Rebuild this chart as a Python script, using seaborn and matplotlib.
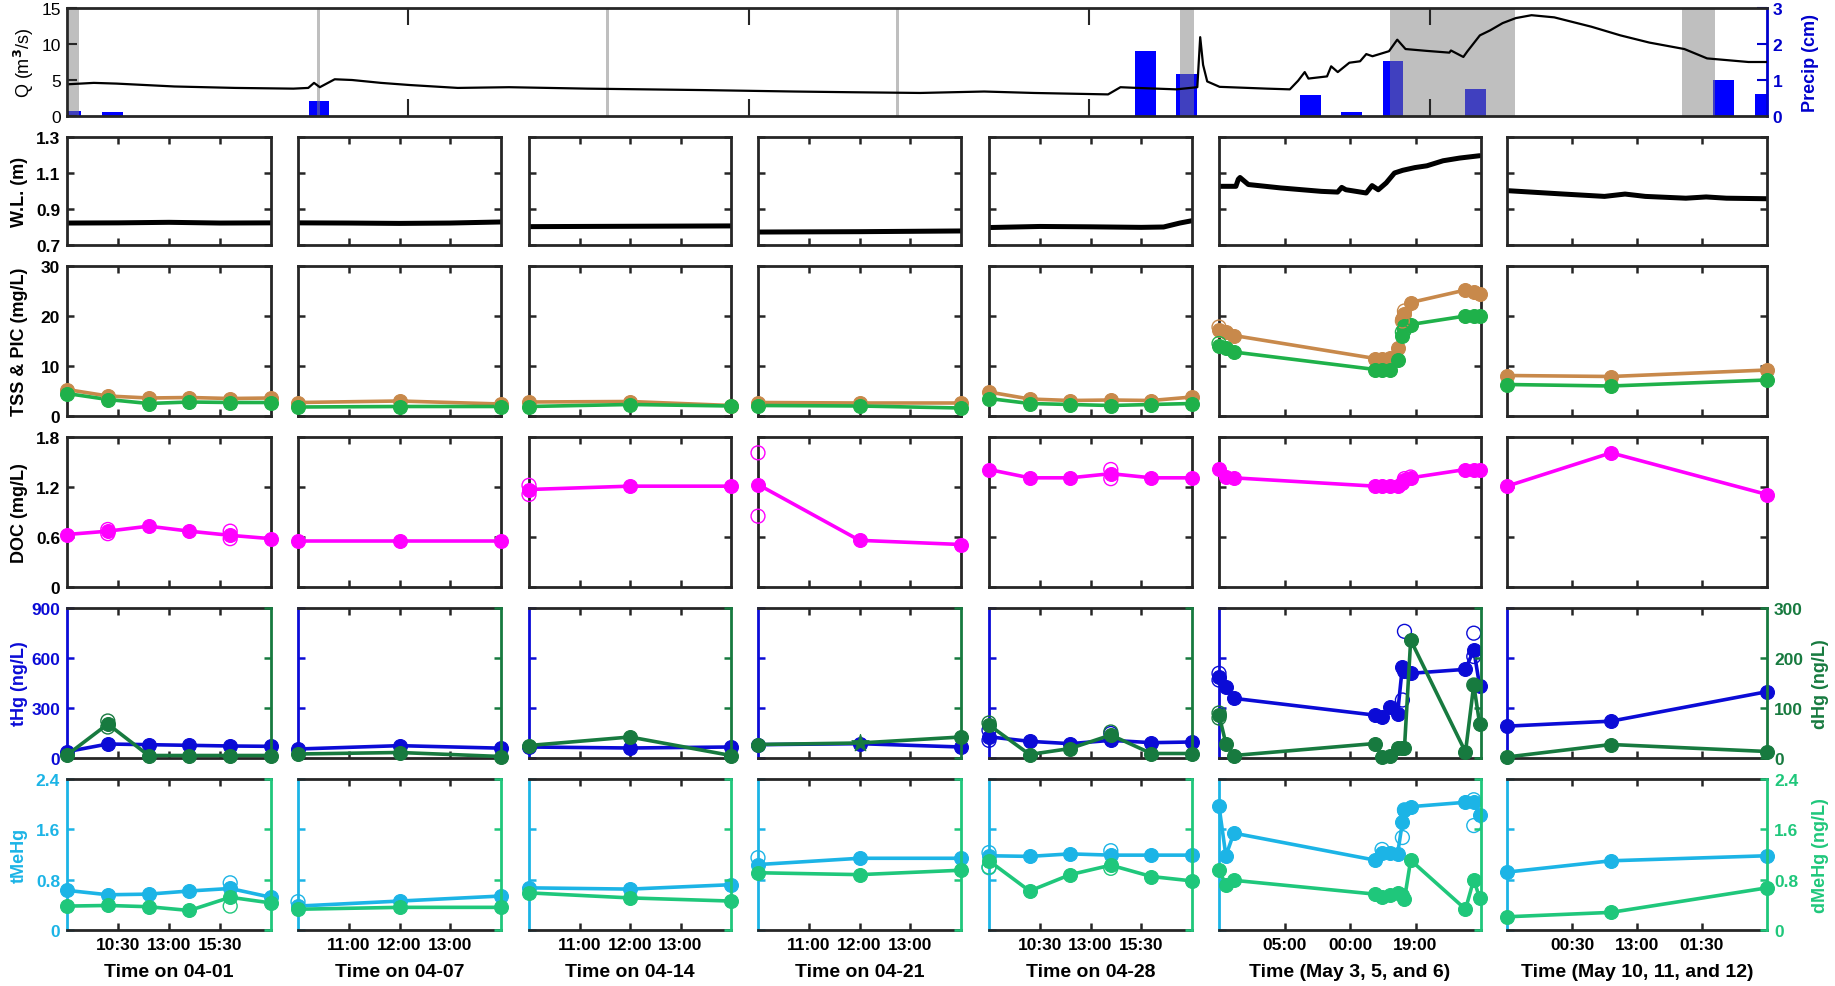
import numpy as np
import pandas as pd
import matplotlib
matplotlib.use("Agg")
import matplotlib.pyplot as plt
import seaborn as sns

# ---------------- data ----------------
# top panel: discharge (days since Apr 1 00:00)
Q_DAY = [0.0, 0.65, 1.2, 2.6, 4.07, 5.48, 5.84, 5.98, 6.12, 6.48, 6.9, 7.6, 8.3, 9.46, 10.7,
         12.6, 14.0, 15.4, 17.6, 19.0, 20.65, 22.2, 23.4, 25.2, 25.5, 25.9, 26.85, 27.36, 27.43,
         27.5, 27.6, 27.9, 29.05, 29.6, 29.8, 29.96, 30.05, 30.5, 30.6, 30.76, 31.04, 31.3, 31.45,
         31.6, 32.0, 32.2, 32.4, 32.9, 33.46, 33.5, 33.8, 33.9, 34.2, 34.45, 34.75, 35.07, 35.45,
         36.0, 36.9, 37.6, 38.3, 39.15, 39.7, 40.1, 40.7, 41.15]
Q_M3S = [4.4, 4.6, 4.5, 4.1, 3.9, 3.8, 3.9, 4.6, 4.0, 5.1, 5.0, 4.6, 4.3, 3.9, 4.0,
         3.8, 3.7, 3.6, 3.4, 3.3, 3.2, 3.4, 3.2, 3.0, 4.0, 3.9, 3.7, 4.0, 10.95,
         7.1, 4.8, 4.05, 3.8, 3.7, 4.9, 6.1, 5.2, 5.5, 6.9, 6.1, 7.4, 7.6, 8.6,
         8.3, 9.0, 10.6, 9.3, 9.05, 8.8, 9.1, 8.2, 9.0, 11.2, 11.9, 12.9, 13.6, 14.0,
         13.7, 12.4, 11.2, 10.2, 9.3, 8.0, 7.8, 7.5, 7.5]
P_DAY = [0.1, 1.1, 6.1, 26.1, 27.1, 30.1, 31.1, 32.1, 34.1, 40.1, 41.1]
P_CM = [0.15, 0.12, 0.43, 1.8, 1.17, 0.57, 0.11, 1.54, 0.76, 1.0, 0.62]
SAMPLING_START = [0.05, 6.05, 13.04, 20.07, 26.95, 32.03, 39.1]
SAMPLING_END = [0.29, 6.12, 13.11, 20.14, 27.29, 35.06, 39.88]
TOP_XTICKS = [8.25, 16.5, 24.75, 33.0]

# sampling windows (hours from start of each window)
COL_SPAN = [10, 4, 4, 4, 10, 76, 50]
XTICK_LABELS = [["10:30", "13:00", "15:30"], ["11:00", "12:00", "13:00"],
                ["11:00", "12:00", "13:00"], ["11:00", "12:00", "13:00"],
                ["10:30", "13:00", "15:30"], ["05:00", "00:00", "19:00"],
                ["00:30", "13:00", "01:30"]]
XLABELS = ["Time on 04-01", "Time on 04-07", "Time on 04-14", "Time on 04-21",
           "Time on 04-28", "Time (May 3, 5, and 6)", "Time (May 10, 11, and 12)"]

# water level
WL_T = [[0, 2.5, 5, 7.5, 10], [0, 1, 2, 3, 4], [0, 2, 4], [0, 2, 4],
        [0, 2.5, 5, 7.5, 8.6, 9.4, 10],
        [0, 4.9, 5.6, 6.1, 8.5, 17.9, 29.7, 34.4, 35.6, 36.8, 42.7, 44.4, 46.2, 48.5, 50.9,
         53.3, 56.8, 60.3, 65.0, 69.8, 75.6],
        [0, 10.9, 18.75, 22.7, 26.6, 34.4, 38.3, 42.2, 50]]
WL_M = [[0.822, 0.823, 0.826, 0.822, 0.823], [0.823, 0.822, 0.820, 0.822, 0.828],
        [0.802, 0.804, 0.806], [0.772, 0.774, 0.778],
        [0.797, 0.803, 0.801, 0.798, 0.800, 0.822, 0.835],
        [1.026, 1.026, 1.065, 1.075, 1.036, 1.017, 0.998, 0.994, 1.02, 1.007, 0.989, 1.03,
         1.007, 1.045, 1.10, 1.115, 1.13, 1.14, 1.168, 1.183, 1.196],
        [1.002, 0.983, 0.97, 0.983, 0.97, 0.96, 0.967, 0.96, 0.957]]

# grab samples
T_SAMPLE = [[0, 2, 4, 6, 8, 10], [0, 2, 4], [0, 2, 4], [0, 2, 4], [0, 2, 4, 6, 8, 10],
            [0, 2.0, 4.3, 45.3, 47.3, 49.7, 51.8, 53.2, 53.8, 55.6, 71.5, 73.9, 75.6],
            [0, 20, 50]]
TSS = [[5.3, 4.0, 3.6, 3.7, 3.5, 3.6], [2.7, 3.0, 2.4], [2.8, 2.9, 2.1], [2.7, 2.6, 2.6],
       [4.8, 3.4, 3.1, 3.2, 3.1, 3.8],
       [17.3, 16.8, 16.1, 11.5, 11.5, 11.7, 13.7, 19.5, 20.5, 22.7, 25.2, 24.9, 24.5],
       [8.1, 7.9, 9.2]]
PIC = [[4.5, 3.3, 2.5, 2.8, 2.7, 2.7], [1.8, 1.9, 1.9], [1.9, 2.3, 2.0], [2.1, 2.0, 1.6],
       [3.5, 2.5, 2.3, 2.1, 2.3, 2.5],
       [14.0, 13.7, 12.8, 9.3, 9.2, 9.2, 11.3, 16.0, 18.0, 18.3, 20.0, 20.1, 20.0],
       [6.3, 6.0, 7.2]]
DOC = [[0.63, 0.67, 0.73, 0.67, 0.62, 0.58], [0.55, 0.55, 0.55], [1.17, 1.21, 1.21],
       [1.23, 0.56, 0.51], [1.41, 1.31, 1.31, 1.36, 1.31, 1.31],
       [1.42, 1.32, 1.31, 1.21, 1.21, 1.21, 1.21, 1.25, 1.28, 1.31, 1.41, 1.41, 1.41],
       [1.21, 1.61, 1.11]]
THG = [[38, 84, 80, 76, 72, 70], [54, 74, 59], [66, 60, 66], [80, 86, 66],
       [127, 100, 86, 106, 92, 96],
       [488, 428, 358, 257, 247, 307, 267, 548, 520, 508, 532, 649, 434],
       [191, 221, 398]]
DHG = [[6, 68, 5, 5, 5, 5], [8, 11, 3], [25, 42, 5], [27, 30, 42], [66, 7, 19, 46, 9, 9],
       [86, 29, 5, 29, 2, 5, 20, 20, 20, 236, 12, 146, 69],
       [2, 27, 13]]
DHG_MARKERS = [['o'] * 6, ['o'] * 3, ['o'] * 3, ['o', '*', 'o'], ['o'] * 6, ['o'] * 13, ['o'] * 3]
TMEHG = [[0.63, 0.56, 0.57, 0.62, 0.66, 0.52], [0.38, 0.46, 0.54], [0.67, 0.65, 0.72],
         [1.04, 1.14, 1.14], [1.18, 1.17, 1.21, 1.19, 1.19, 1.19],
         [1.97, 1.18, 1.54, 1.11, 1.23, 1.22, 1.21, 1.71, 1.91, 1.96, 2.03, 2.04, 1.83],
         [0.92, 1.10, 1.18]]
DMEHG = [[0.38, 0.39, 0.37, 0.31, 0.52, 0.43], [0.33, 0.36, 0.36], [0.59, 0.51, 0.46],
         [0.91, 0.88, 0.95], [1.10, 0.62, 0.88, 1.03, 0.85, 0.78],
         [0.96, 0.71, 0.79, 0.57, 0.52, 0.56, 0.59, 0.55, 0.49, 1.11, 0.33, 0.80, 0.51],
         [0.21, 0.28, 0.67]]

# replicate samples (column, time, value) shown as open circles
REP_TSS = [(5, 0, 17.8), (5, 53.2, 19.0), (5, 53.8, 21.0)]
REP_PIC = [(5, 0, 14.5), (5, 53.2, 16.8), (5, 53.8, 17.2)]
REP_DOC = [(0, 2, 0.69), (0, 2, 0.64), (0, 8, 0.67), (0, 8, 0.58), (2, 0, 1.22), (2, 0, 1.11),
           (3, 0, 1.61), (3, 0, 0.85), (4, 6, 1.41), (4, 6, 1.30), (5, 53.8, 1.30), (5, 55.6, 1.32)]
REP_THG = [(4, 0, 167), (4, 0, 106), (4, 6, 147), (4, 6, 117), (5, 0, 508), (5, 0, 468),
           (5, 53.8, 760), (5, 53.2, 348), (5, 73.9, 749), (5, 73.9, 609)]
REP_DHG = [(0, 2, 74), (0, 2, 62), (4, 0, 70), (4, 6, 52), (5, 0, 90), (5, 0, 80), (5, 73.9, 146)]
REP_TMEHG = [(0, 8, 0.75), (1, 0, 0.45), (3, 0, 1.15), (4, 0, 1.23), (4, 0, 0.99), (4, 6, 1.26),
             (5, 47.3, 1.28), (5, 53.8, 1.91), (5, 53.2, 1.47), (5, 73.9, 2.07), (5, 73.9, 1.66)]
REP_DMEHG = [(0, 8, 0.38), (4, 0, 1.0), (4, 6, 0.98)]

# ---------------- style ----------------
sns.set_theme(style="ticks")
plt.rcParams['font.family'] = ['Liberation Sans', 'DejaVu Sans']
plt.rcParams['font.weight'] = 'bold'
plt.rcParams['xtick.direction'] = 'in'
plt.rcParams['ytick.direction'] = 'in'

AXC = '#262626'
C_TSS = '#c8894b'
C_PIC = '#1fb14a'
C_DOC = '#ff00ff'
C_THG = '#0b0bd6'
C_DHG = '#177a3f'
C_TMEHG = '#1cb4e6'
C_DMEHG = '#1fc77b'
C_P = '#0000ff'
C_PAX = '#0000cc'

W, H = 1835, 987
fig = plt.figure(figsize=(W / 100, H / 100), dpi=100)
fig.patch.set_facecolor('white')

COL_PX = [(67, 271), (298, 501), (529, 731), (758, 961), (989, 1192), (1219, 1481), (1507, 1767)]
ROW_PX = [(138, 246), (267, 417), (438, 588), (609, 759), (780, 931)]
TICK_FS = 12.5
LAB_FS = 13


def add_ax(x0, y0, x1, y1):
    return fig.add_axes([x0 / W, 1 - y1 / H, (x1 - x0) / W, (y1 - y0) / H])


def style_spines(ax, left=AXC, right=AXC, top=AXC, bottom=AXC, lw=2.0):
    for k, c in zip(['left', 'right', 'top', 'bottom'], [left, right, top, bottom]):
        if c is None:
            ax.spines[k].set_visible(False)
        else:
            ax.spines[k].set_visible(True)
            ax.spines[k].set_color(c)
            ax.spines[k].set_linewidth(lw)


def draw_series(ax, t, v, color, markers=None, lw=2.6, ms=10):
    df = pd.DataFrame({'t': t, 'v': v})
    sns.lineplot(data=df, x='t', y='v', ax=ax, color=color, linewidth=lw, estimator=None,
                 sort=False, legend=False, clip_on=False, zorder=3)
    if markers is None:
        markers = ['o'] * len(t)
    df['m'] = markers
    for m, sub in df.groupby('m'):
        size = ms ** 2 if m == 'o' else (ms * 1.3) ** 2
        sns.scatterplot(data=sub, x='t', y='v', ax=ax, color=color, s=size, marker=m,
                        edgecolor=color, linewidth=0.8, legend=False, clip_on=False, zorder=4)
    ax.set_xlabel('')
    ax.set_ylabel('')


def draw_reps(ax, reps, col, color, ms=10):
    pts = [(t, v) for c, t, v in reps if c == col]
    if not pts:
        return
    df = pd.DataFrame(pts, columns=['t', 'v'])
    sns.scatterplot(data=df, x='t', y='v', ax=ax, s=ms ** 2, marker='o', facecolor='none',
                    edgecolor=color, linewidth=1.0, legend=False, clip_on=False, zorder=5)
    ax.set_xlabel('')
    ax.set_ylabel('')


# ---------------- top panel ----------------
axq = add_ax(67, 9, 1767, 117)
axp = axq.twinx()
axp.bar(P_DAY, P_CM, width=0.5, color=C_P, linewidth=0, zorder=2)
for s, e in zip(SAMPLING_START, SAMPLING_END):
    axp.axvspan(s, e, color='#808080', alpha=0.5, lw=0, zorder=3)
axq.set_zorder(axp.get_zorder() + 1)
axq.patch.set_visible(False)
sns.lineplot(x=Q_DAY, y=Q_M3S, ax=axq, color='black', linewidth=1.6, estimator=None, sort=False)
axq.set_xlim(0, 41.15)
axq.set_ylim(0, 15)
axp.set_ylim(0, 3)
axq.set_xticks(TOP_XTICKS)
axq.set_xticklabels([])
axq.set_yticks([0, 5, 10, 15])
axp.set_yticks([0, 1, 2, 3])
axq.tick_params(axis='x', top=True, bottom=True, length=12, width=1.5, color=AXC)
axq.tick_params(axis='y', left=True, right=False, length=7, width=1.5, color=AXC,
                labelcolor='black', labelsize=TICK_FS, pad=4)
for lab in axq.get_yticklabels():
    lab.set_fontweight('normal')
axp.tick_params(axis='y', right=True, length=7, width=1.5, colors=C_PAX, labelsize=TICK_FS, pad=4)
style_spines(axq, right=None)
style_spines(axp, left=None, top=None, bottom=None, right=C_PAX)
fig.text(24 / W, 1 - 63 / H, 'Q (m$^3$/s)', rotation=90, ha='center', va='center',
         fontsize=LAB_FS, fontweight='normal', color='black')
fig.text(1810 / W, 1 - 63 / H, 'Precip (cm)', rotation=90, ha='center', va='center',
         fontsize=LAB_FS, color=C_PAX)

# ---------------- sample panels ----------------
ROW_YLIM = [(0.7, 1.3), (0, 30), (0, 1.8), (0, 900), (0, 2.4)]
ROW_YTICKS = [[0.7, 0.9, 1.1, 1.3], [0, 10, 20, 30], [0, 0.6, 1.2, 1.8], [0, 300, 600, 900],
              [0, 0.8, 1.6, 2.4]]
ROW_YTICKLABELS = [['0.7', '0.9', '1.1', '1.3'], ['0', '10', '20', '30'],
                   ['0', '0.6', '1.2', '1.8'], ['0', '300', '600', '900'],
                   ['0', '0.8', '1.6', '2.4']]
RIGHT_YLIM = {3: (0, 300), 4: (0, 2.4)}
RIGHT_YTICKS = {3: [0, 100, 200, 300], 4: [0, 0.8, 1.6, 2.4]}
RIGHT_YTICKLABELS = {3: ['0', '100', '200', '300'], 4: ['0', '0.8', '1.6', '2.4']}
LEFT_COL = {3: C_THG, 4: C_TMEHG}
RIGHT_COL = {3: C_DHG, 4: C_DMEHG}

for c in range(7):
    x0, x1 = COL_PX[c]
    span = COL_SPAN[c]
    xt = [0.25 * span, 0.5 * span, 0.75 * span]
    for r in range(5):
        y0, y1 = ROW_PX[r]
        ax = add_ax(x0, y0, x1, y1)
        axr = None
        if r == 0:
            sns.lineplot(x=WL_T[c], y=WL_M[c], ax=ax, color='black', linewidth=3.6,
                         estimator=None, sort=False)
        elif r == 1:
            draw_series(ax, T_SAMPLE[c], TSS[c], C_TSS)
            draw_reps(ax, REP_TSS, c, C_TSS)
            draw_series(ax, T_SAMPLE[c], PIC[c], C_PIC)
            draw_reps(ax, REP_PIC, c, C_PIC)
        elif r == 2:
            draw_series(ax, T_SAMPLE[c], DOC[c], C_DOC)
            draw_reps(ax, REP_DOC, c, C_DOC)
        elif r == 3:
            axr = ax.twinx()
            draw_series(ax, T_SAMPLE[c], THG[c], C_THG)
            draw_reps(ax, REP_THG, c, C_THG)
            draw_series(axr, T_SAMPLE[c], DHG[c], C_DHG, markers=DHG_MARKERS[c])
            draw_reps(axr, REP_DHG, c, C_DHG)
        else:
            axr = ax.twinx()
            draw_series(ax, T_SAMPLE[c], TMEHG[c], C_TMEHG)
            draw_reps(ax, REP_TMEHG, c, C_TMEHG)
            draw_series(axr, T_SAMPLE[c], DMEHG[c], C_DMEHG)
            draw_reps(axr, REP_DMEHG, c, C_DMEHG)

        ax.set_xlabel('')
        ax.set_ylabel('')
        ax.set_xlim(0, span)
        ax.set_ylim(*ROW_YLIM[r])
        ax.set_xticks(xt)
        ax.set_yticks(ROW_YTICKS[r])
        ax.tick_params(axis='x', top=True, bottom=True, length=5, width=1.8, color=AXC,
                       labelbottom=(r == 4), labelsize=TICK_FS, labelcolor='black', pad=5)
        if r == 4:
            ax.set_xticklabels(XTICK_LABELS[c])
        if axr is None:
            ax.set_yticklabels(ROW_YTICKLABELS[r])
            ax.tick_params(axis='y', left=True, right=True, length=5, width=1.8, color=AXC,
                           labelleft=(c == 0), labelsize=TICK_FS, labelcolor='black', pad=5)
            style_spines(ax)
        else:
            lc, rc = LEFT_COL[r], RIGHT_COL[r]
            ax.set_yticklabels(ROW_YTICKLABELS[r])
            ax.tick_params(axis='y', left=True, right=False, length=5, width=1.8, color=lc,
                           labelleft=(c == 0), labelsize=TICK_FS, labelcolor=lc, pad=5)
            axr.set_xlim(0, span)
            axr.set_ylim(*RIGHT_YLIM[r])
            axr.set_yticks(RIGHT_YTICKS[r])
            axr.set_yticklabels(RIGHT_YTICKLABELS[r])
            axr.set_ylabel('')
            axr.tick_params(axis='y', right=True, left=False, length=5, width=1.8, color=rc,
                            labelright=(c == 6), labelsize=TICK_FS, labelcolor=rc, pad=5)
            style_spines(ax, left=lc, right=None)
            style_spines(axr, left=None, top=None, bottom=None, right=rc)
        if r == 4:
            fig.text((x0 + x1) / 2 / W, 1 - 973 / H, XLABELS[c], ha='center', va='center',
                     fontsize=14, color='black')

# y labels
ROW_LABELS = ['W.L. (m)', 'TSS & PIC (mg/L)', 'DOC (mg/L)', 'tHg (ng/L)', 'tMeHg']
ROW_LABEL_COLORS = ['black', 'black', 'black', C_THG, C_TMEHG]
for r in range(5):
    y0, y1 = ROW_PX[r]
    fig.text(19 / W, 1 - (y0 + y1) / 2 / H, ROW_LABELS[r], rotation=90, ha='center',
             va='center', fontsize=LAB_FS, color=ROW_LABEL_COLORS[r])
fig.text(1820 / W, 1 - (ROW_PX[3][0] + ROW_PX[3][1]) / 2 / H, 'dHg (ng/L)', rotation=90,
         ha='center', va='center', fontsize=LAB_FS, color=C_DHG)
fig.text(1820 / W, 1 - (ROW_PX[4][0] + ROW_PX[4][1]) / 2 / H, 'dMeHg (ng/L)', rotation=90,
         ha='center', va='center', fontsize=LAB_FS, color=C_DMEHG)

fig.savefig('out.png', dpi=100, facecolor='white')
